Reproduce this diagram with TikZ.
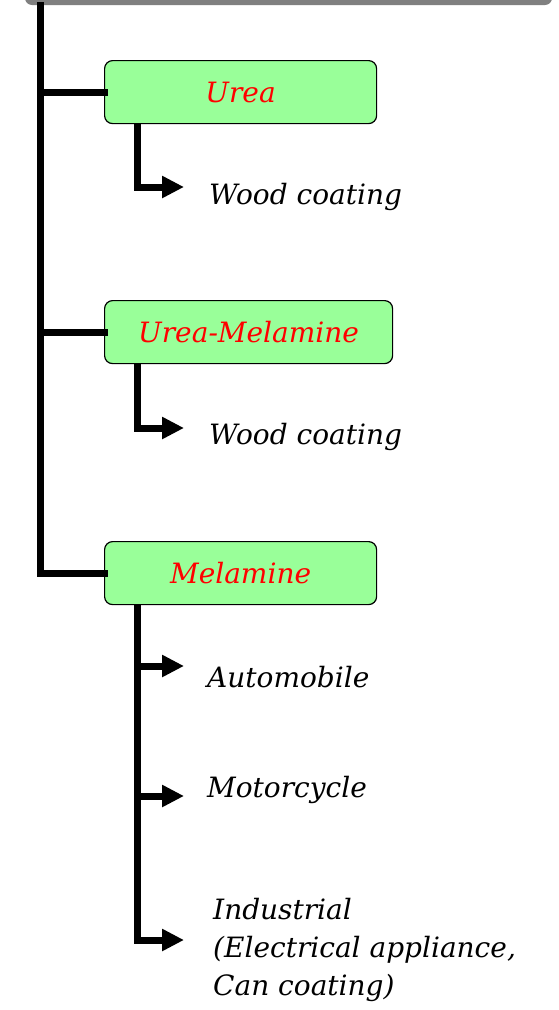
\documentclass[tikz,border=0pt]{standalone}
\usepackage{fontspec}
\setmainfont{DejaVu Serif}
\usetikzlibrary{arrows.meta}
\definecolor{boxgreen}{HTML}{99FF99}
\definecolor{topgray}{HTML}{808080}
\begin{document}
\begin{tikzpicture}[x=1pt,y=-1pt,
  catbox/.style={draw=black,line width=1.2pt,fill=boxgreen,rounded corners=8pt,
    minimum height=63pt,inner sep=0pt,anchor=north west,
    font=\fontsize{28}{30}\selectfont\itshape,text=red},
  usetext/.style={anchor=west,inner sep=0pt,font=\fontsize{28}{38}\selectfont\itshape,text=black},
  spine/.style={line width=7pt,line join=miter,line cap=rect},
  arrowline/.style={line width=7pt,line join=miter,-{Triangle[length=22pt,width=21pt]}}]
\useasboundingbox (0,0) rectangle (558,1010);
\begin{scope}
\clip (0,0) rectangle (558,1010);
\fill[topgray,rounded corners=7pt] (25,-30) rectangle (552,5);
\end{scope}
% category boxes
\node[catbox,minimum width=272pt] (urea) at (104,60) {Urea};
\node[catbox,minimum width=288pt] (um) at (104,300) {Urea-Melamine};
\node[catbox,minimum width=272pt] (mel) at (104,541) {Melamine};
% use texts
\node[usetext] (wc1) at (209,197) {Wood coating};
\node[usetext] (wc2) at (209,437) {Wood coating};
\node[usetext] (auto) at (207,677) {Automobile};
\node[usetext] (moto) at (207,790) {Motorcycle};
\node[usetext,align=left] (ind) at (213,950) {Industrial\\(Electrical appliance,\\Can coating)};
% spine
\coordinate (top) at (40,5);
\draw[spine] (top) |- (mel.west);
\draw[spine] (top |- urea.west) -- (urea.west);
\draw[spine] (top |- um.west) -- (um.west);
% sub connectors
\coordinate (a1) at (184,187);
\coordinate (a2) at (184,428);
\coordinate (a3) at (184,666);
\coordinate (a4) at (184,796);
\coordinate (a5) at (184,940);
\draw[arrowline] ([xshift=33pt]urea.south west) |- (a1);
\draw[arrowline] ([xshift=33pt]um.south west) |- (a2);
\draw[arrowline] ([xshift=33pt]mel.south west) |- (a5);
\coordinate (mx) at ([xshift=33pt]mel.south west);
\draw[arrowline] (mx |- a3) -- (a3);
\draw[arrowline] (mx |- a4) -- (a4);
\end{tikzpicture}
\end{document}
